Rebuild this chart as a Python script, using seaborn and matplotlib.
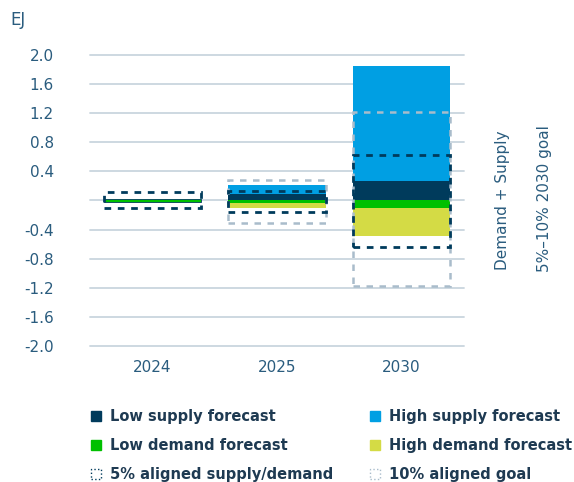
import numpy as np
import pandas as pd
import matplotlib
matplotlib.use("Agg")
import matplotlib.pyplot as plt
from matplotlib.patches import Patch
import seaborn as sns

# Forecast ranges, EJ
years = ["2024", "2025", "2030"]
low_supply = [0.0, 0.095, 0.265]
high_supply = [0.0, 0.21, 1.85]
low_demand = [-0.015, -0.04, -0.11]
high_demand = [-0.015, -0.10, -0.49]

# Aligned supply/demand envelopes (top, bottom)
aligned5_top = [0.12, 0.13, 0.63]
aligned5_bottom = [-0.10, -0.155, -0.64]
aligned10_top = [np.nan, 0.275, 1.21]
aligned10_bottom = [np.nan, -0.31, -1.18]

yticks = [2.0, 1.6, 1.2, 0.8, 0.4, 0.0, -0.4, -0.8, -1.2, -1.6, -2.0]
ytick_labels = ["2.0", "1.6", "1.2", "0.8", "0.4", "", "-0.4", "-0.8", "-1.2", "-1.6", "-2.0"]

NAVY = "#003b5c"
BLUE = "#009fe3"
GREEN = "#00c000"
YELLOW = "#d4db45"
LIGHT = "#a9bccb"
GRID = "#c9d5de"
TEXT = "#2a5c7e"
LEGEND_TEXT = "#1e3a52"

sns.set_theme(style="white")
plt.rcParams["font.family"] = ["DejaVu Sans"]

df = pd.DataFrame({
    "year": years,
    "low_supply": low_supply,
    "high_supply": high_supply,
    "low_demand": low_demand,
    "high_demand": high_demand,
})

fig = plt.figure(figsize=(5.74, 4.82), dpi=100)
ax = fig.add_axes([0.1568, 0.2822, 0.6516, 0.6037])

W = 0.78
for col, color in [("high_supply", BLUE), ("low_supply", NAVY),
                   ("high_demand", YELLOW), ("low_demand", GREEN)]:
    sns.barplot(data=df, x="year", y=col, color=color, width=W, ax=ax,
                saturation=1, errorbar=None, linewidth=0, zorder=3)

xs = np.arange(len(years))
# 2024 thin outline around the near-zero value
ax.bar(xs[0], high_demand[0] * 2, bottom=-high_demand[0], width=W,
       color=GREEN, edgecolor=NAVY, linewidth=0.6, zorder=3)

t10 = np.array(aligned10_top)
b10 = np.array(aligned10_bottom)
m10 = ~np.isnan(t10)
ax.bar(xs[m10], (t10 - b10)[m10], bottom=b10[m10], width=W, fill=False,
       edgecolor=LIGHT, linewidth=1.8, linestyle=(0, (2.6, 2.6)), zorder=4)
t5 = np.array(aligned5_top)
b5 = np.array(aligned5_bottom)
ax.bar(xs, t5 - b5, bottom=b5, width=W, fill=False,
       edgecolor=NAVY, linewidth=2.0, linestyle=(0, (2.4, 2.4)), zorder=5)

ax.set_xlim(-0.5, 2.5)
ax.set_ylim(-2.0, 2.0)
ax.set_yticks(yticks)
ax.set_yticklabels(ytick_labels)
for y in yticks:
    ax.axhline(y, color=GRID, linewidth=1.3, zorder=1, clip_on=False)
for s in ax.spines.values():
    s.set_visible(False)
ax.set_xlabel("")
ax.set_ylabel("")
ax.tick_params(axis="y", length=0, pad=26, labelsize=11, labelcolor=TEXT)
ax.tick_params(axis="x", length=0, pad=10, labelsize=11, labelcolor=TEXT)

fig.text(10 / 574, 1 - 20 / 482, "EJ", fontsize=12, color=TEXT,
         ha="left", va="center")
fig.text(502 / 574, 1 - 200 / 482, "Demand + Supply", rotation=90,
         fontsize=11, color=TEXT, ha="center", va="center")
fig.text(545 / 574, 1 - 199 / 482, "5%\u201310% 2030 goal", rotation=90,
         fontsize=11, color=TEXT, ha="center", va="center")

handles = [
    Patch(facecolor=NAVY, edgecolor=NAVY, label="Low supply forecast"),
    Patch(facecolor=GREEN, edgecolor=GREEN, label="Low demand forecast"),
    Patch(facecolor="none", edgecolor=NAVY, linestyle=":", linewidth=1.0,
          label="5% aligned supply/demand"),
    Patch(facecolor=BLUE, edgecolor=BLUE, label="High supply forecast"),
    Patch(facecolor=YELLOW, edgecolor=YELLOW, label="High demand forecast"),
    Patch(facecolor="none", edgecolor=LIGHT, linestyle=":", linewidth=1.0,
          label="10% aligned goal"),
]
leg = fig.legend(handles=handles, ncol=2, loc="upper left",
                 bbox_to_anchor=(78 / 574, 1 - 396 / 482), frameon=False,
                 handlelength=0.7, handleheight=0.7, handletextpad=0.6,
                 columnspacing=2.5, labelspacing=0.95,
                 prop={"size": 10.5, "weight": "bold"})
for t in leg.get_texts():
    t.set_color(LEGEND_TEXT)

fig.savefig("out.png", dpi=100)
